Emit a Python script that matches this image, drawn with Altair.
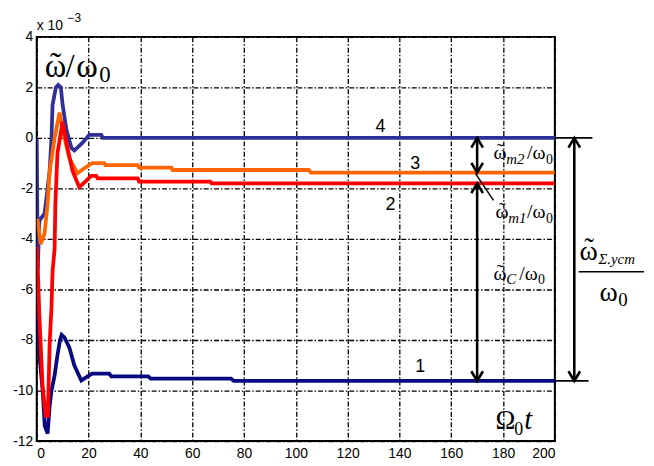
import altair as alt
import pandas as pd

# ---- data (values x 1e-3) ----
t1 = [0, 0.3, 1.2, 2.3, 3.1, 4.2, 5.0, 5.7, 6.9, 8.0, 9.0, 9.6, 10.7, 12.6, 14.5, 17.2, 19.5, 21.4, 28, 28.8, 43, 44, 75, 76, 200]
y1 = [-6.0, -7.0, -8.8, -10.0, -11.4, -11.7, -10.6, -10.0, -9.4, -8.6, -8.0, -7.8, -7.9, -8.3, -9.0, -9.6, -9.45, -9.33, -9.33, -9.44, -9.44, -9.53, -9.53, -9.62, -9.62]

t2 = [0, 0.3, 1.0, 2.3, 3.5, 4.3, 5.0, 5.7, 6.1, 6.9, 7.2, 8.0, 9.6, 9.9, 11.9, 13.8, 16.4, 19.1, 21.0, 23.0, 23.5, 39, 39.5, 67, 67.5, 200]
y2 = [-4.3, -4.8, -7.0, -9.9, -11.0, -11.0, -8.1, -6.7, -5.3, -4.4, -2.6, -0.6, 0.4, 0.65, -0.4, -1.3, -1.95, -1.7, -1.5, -1.5, -1.6, -1.6, -1.73, -1.73, -1.8, -1.8]

t3 = [0.3, 0.8, 1.5, 3.0, 4.2, 5.0, 6.9, 8.8, 10.7, 12.6, 15.7, 18.4, 21.4, 26, 26.5, 39, 39.5, 52, 52.5, 105, 105.8, 200]
y3 = [-3.2, -3.6, -4.2, -3.8, -2.6, -1.3, 0.0, 1.0, 0.0, -0.8, -1.4, -1.2, -1.0, -1.0, -1.08, -1.08, -1.18, -1.18, -1.27, -1.27, -1.37, -1.37]

t4 = [0, 0.4, 1.0, 1.5, 3.0, 3.8, 5.0, 5.7, 6.1, 7.4, 8.3, 9.3, 10.0, 11.5, 13.4, 14.5, 17.6, 20.3, 24.9, 25.5, 200]
y4 = [0, -5.2, -3.3, -3.2, -3.0, -2.35, -1.3, 0.0, 1.3, 2.0, 2.1, 2.0, 1.3, 0.3, -0.4, -0.5, -0.2, 0.12, 0.12, 0, 0]

series_colors = ["#0a0a80", "#ff0000", "#ff6600", "#30309a"]
x_ticks = list(range(0, 201, 20))
y_ticks = list(range(-12, 5, 2))

x_scale = alt.Scale(domain=[0, 200], nice=False, zero=False)
y_scale = alt.Scale(domain=[-12, 4], nice=False, zero=False)

grid_kw = dict(grid=True, gridColor="black", gridDash=[5, 2, 1.5, 2], gridWidth=1.3,
               ticks=False, domain=False, title=None, labelFont="Liberation Sans",
               labelFontSize=14, labelColor="black")

x_axis = alt.Axis(values=x_ticks, labelPadding=6, **grid_kw)
y_axis = alt.Axis(values=y_ticks, labelPadding=4, labelExpr="'' + datum.value", **grid_kw)


def X(field):
    return alt.X(field, scale=x_scale, axis=x_axis)


def Y(field):
    return alt.Y(field, scale=y_scale, axis=y_axis)


def line_layer(t, y, color):
    df = pd.DataFrame({"t": t, "v": y})
    return alt.Chart(df).mark_line(color=color, strokeWidth=3.8, clip=True).encode(
        x=X("t:Q"), y=Y("v:Q"))


layers = [
    line_layer(t1, y1, series_colors[0]),
    line_layer(t4, y4, series_colors[3]),
    line_layer(t3, y3, series_colors[2]),
    line_layer(t2, y2, series_colors[1]),
]

# ---- annotation arrows (tied to the final values) ----
xa, xb = 170, 207.5
f1, f2, f3, f4 = y1[-1], y2[-1], y3[-1], y4[-1]
arrows = pd.DataFrame({"x": [xa, xa, xb], "y": [f4, f2, f4], "y2": [f3, f1, f1]})
layers.append(alt.Chart(arrows).mark_rule(color="black", strokeWidth=2.6).encode(
    x=X("x:Q"), y=Y("y:Q"), y2="y2:Q"))

hlines = pd.DataFrame({"x": [200, 200], "x2": [214.5, 213], "y": [f4, f1]})
layers.append(alt.Chart(hlines).mark_rule(color="black", strokeWidth=1.8).encode(
    x=X("x:Q"), x2="x2:Q", y=Y("y:Q")))

leader = pd.DataFrame({"x": [169.4], "x2": [176.3], "y": [-1.41], "y2": [-2.47]})
layers.append(alt.Chart(leader).mark_rule(color="black", strokeWidth=1.5).encode(
    x=X("x:Q"), x2="x2:Q", y=Y("y:Q"), y2="y2:Q"))

up = pd.DataFrame({"x": [xa, xa, xb], "y": [f4, f2, f4]})
down = pd.DataFrame({"x": [xa, xa, xb], "y": [f3, f1, f1]})
for df, shape in [(up, "M-0.6,1L0,0L0.6,1"), (down, "M-0.6,-1L0,0L0.6,-1")]:
    layers.append(alt.Chart(df).mark_point(shape=shape, filled=False, stroke="black",
                                           strokeWidth=2.6, size=380, opacity=1).encode(
        x=X("x:Q"), y=Y("y:Q")))


# ---- text annotations (pixel positions inside the plot area) ----
def txt(x, y, s, size, font="Liberation Serif", style="normal", align="left"):
    return alt.Chart(pd.DataFrame({"s": [s]})).mark_text(
        font=font, fontSize=size, fontStyle=style, align=align, baseline="alphabetic",
        color="black").encode(x=alt.value(x), y=alt.value(y), text="s:N")


W = "\u03c9"


def omega_tilde(x, y, size):
    return [txt(x, y, W, size),
            txt(x + 0.34 * size, y - 0.05 * size, "\u02dc", size * 1.05, align="center")]


texts = [
    txt(0, -7, "x 10", 14, font="Liberation Sans"),
    txt(31, -15, "\u22123", 12, font="Liberation Sans"),
    *omega_tilde(8, 41, 33),
    txt(29, 41, "/", 33),
    txt(40, 41, W, 33),
    txt(63, 46, "0", 23),
    txt(463, 396, "\u03a9", 27),
    txt(482, 402, "0", 18),
    txt(492, 396, "t", 29, style="italic"),
    txt(347, 96, "4", 18, font="Liberation Sans", align="center"),
    txt(382, 133, "3", 18, font="Liberation Sans", align="center"),
    txt(357, 175, "2", 18, font="Liberation Sans", align="center"),
    txt(387, 338, "1", 18, font="Liberation Sans", align="center"),
    # omega_m2 / omega_0
    *omega_tilde(461, 123, 20),
    txt(474, 128, "m2", 15, style="italic"),
    txt(495, 123, "/" + W, 20),
    txt(514, 128, "0", 14),
    # omega_m1 / omega_0
    *omega_tilde(463, 183, 20),
    txt(476, 188, "m1", 15, style="italic"),
    txt(495, 183, "/" + W, 20),
    txt(514, 188, "0", 14),
    # omega_C / omega_0
    *omega_tilde(461, 245, 20),
    txt(474, 249, "C", 15, style="italic"),
    txt(487, 245, "/" + W, 20),
    txt(506, 249, "0", 14),
    # fraction
    *omega_tilde(548, 225, 28),
    txt(567, 229, "\u03a3.\u0443\u0441\u0442", 15, style="italic"),
    txt(568, 267, W, 28),
    txt(587, 272, "0", 19),
]
layers += texts
layers.append(alt.Chart(pd.DataFrame({"a": [0]})).mark_rule(color="black", strokeWidth=1.5).encode(
    x=alt.value(547), x2=alt.value(613), y=alt.value(237)))

chart = alt.layer(*layers).properties(
    width=523, height=408,
    background="white",
    autosize=alt.AutoSizeParams(type="none"),
    padding={"left": 29, "top": 27, "right": 92, "bottom": 20},
).configure_view(stroke="black", strokeWidth=2)

chart.save("out.html", embed_options={"renderer": "svg", "actions": False})
